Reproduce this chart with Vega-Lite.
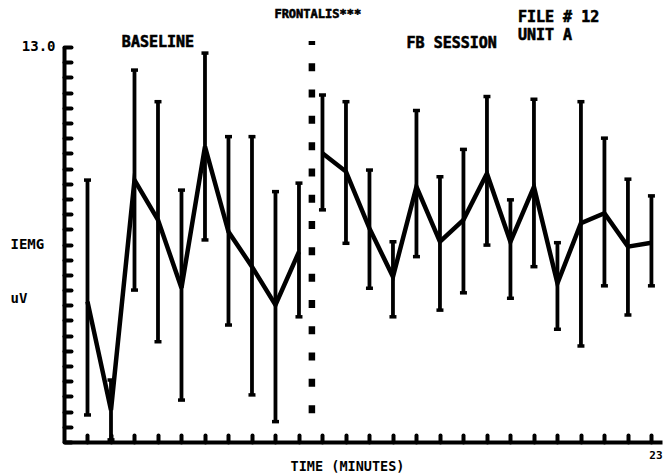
{
  "$schema": "https://vega.github.io/schema/vega-lite/v6.json",
  "width": 598,
  "height": 395,
  "autosize": "none",
  "padding": {"left": 64, "top": 47, "right": 2, "bottom": 34},
  "background": "white",
  "config": {
    "view": {"stroke": null},
    "font": "DejaVu Sans Mono",
    "axis": {"labelFont": "DejaVu Sans Mono", "titleFont": "DejaVu Sans Mono", "labelFontWeight": "bold", "titleFontWeight": "bold", "labelColor": "black", "titleColor": "black", "domainColor": "black", "tickColor": "black", "grid": false, "ticks": true}
  },
  "resolve": {"axis": {"x": "independent", "y": "independent"}},
  "datasets": {
    "emg": [
      {"t": 1, "mean": 4.62, "lo": 0.89, "hi": 8.62, "phase": "BASELINE"},
      {"t": 2, "mean": 1.05, "lo": 0.07, "hi": 2.04, "phase": "BASELINE"},
      {"t": 3, "mean": 8.62, "lo": 5.0, "hi": 12.24, "phase": "BASELINE"},
      {"t": 4, "mean": 7.31, "lo": 3.3, "hi": 11.2, "phase": "BASELINE"},
      {"t": 5, "mean": 5.07, "lo": 1.38, "hi": 8.29, "phase": "BASELINE"},
      {"t": 6, "mean": 9.72, "lo": 6.65, "hi": 12.8, "phase": "BASELINE"},
      {"t": 7, "mean": 6.92, "lo": 3.85, "hi": 10.05, "phase": "BASELINE"},
      {"t": 8, "mean": 5.77, "lo": 1.55, "hi": 10.05, "phase": "BASELINE"},
      {"t": 9, "mean": 4.51, "lo": 0.67, "hi": 8.24, "phase": "BASELINE"},
      {"t": 10, "mean": 6.26, "lo": 4.12, "hi": 8.52, "phase": "BASELINE"},
      {"t": 11, "mean": 9.5, "lo": 7.64, "hi": 11.42, "phase": "FB SESSION"},
      {"t": 12, "mean": 8.9, "lo": 6.54, "hi": 11.2, "phase": "FB SESSION"},
      {"t": 13, "mean": 7.03, "lo": 5.06, "hi": 8.95, "phase": "FB SESSION"},
      {"t": 14, "mean": 5.44, "lo": 4.12, "hi": 6.59, "phase": "FB SESSION"},
      {"t": 15, "mean": 8.4, "lo": 6.1, "hi": 10.91, "phase": "FB SESSION"},
      {"t": 16, "mean": 6.59, "lo": 4.34, "hi": 8.73, "phase": "FB SESSION"},
      {"t": 17, "mean": 7.31, "lo": 4.91, "hi": 9.63, "phase": "FB SESSION"},
      {"t": 18, "mean": 8.84, "lo": 6.48, "hi": 11.37, "phase": "FB SESSION"},
      {"t": 19, "mean": 6.59, "lo": 4.73, "hi": 7.97, "phase": "FB SESSION"},
      {"t": 20, "mean": 8.4, "lo": 5.77, "hi": 11.28, "phase": "FB SESSION"},
      {"t": 21, "mean": 5.22, "lo": 3.71, "hi": 6.56, "phase": "FB SESSION"},
      {"t": 22, "mean": 7.2, "lo": 3.16, "hi": 11.2, "phase": "FB SESSION"},
      {"t": 23, "mean": 7.53, "lo": 5.14, "hi": 10.0, "phase": "FB SESSION"},
      {"t": 24, "mean": 6.43, "lo": 4.18, "hi": 8.65, "phase": "FB SESSION"},
      {"t": 25, "mean": 6.56, "lo": 5.14, "hi": 8.1, "phase": "FB SESSION"}
    ],
    "notes": [
      {"label": "BASELINE", "t": 4.0, "v": 13.17, "size": "big"},
      {"label": "FB SESSION", "t": 16.5, "v": 13.13, "size": "big"},
      {"label": "FRONTALIS***", "t": 10.8, "v": 14.09, "size": "small"}
    ],
    "file": [
      {"label": "FILE # 12", "t": 19.32, "v": 13.98},
      {"label": "UNIT A", "t": 19.32, "v": 13.4}
    ]
  },
  "layer": [
    {
      "data": {"name": "emg"},
      "mark": {"type": "line", "color": "black", "strokeWidth": 4.5, "strokeJoin": "miter"},
      "encoding": {
        "x": {
          "field": "t", "type": "quantitative",
          "scale": {"domain": [0, 25.45], "nice": false, "zero": false},
          "axis": {
            "values": [1,2,3,4,5,6,7,8,9,10,11,12,13,14,15,16,17,18,19,20,21,22,23,24,25],
            "labelExpr": "datum.value == 25 ? '23' : ''",
            "domainWidth": 4, "tickSize": -7, "tickWidth": 4, "tickCap": "round",
            "labelFontSize": 11, "labelPadding": 14, "labelAlign": "center", "labelOffset": 4, "labelBaseline": "top",
            "labelOverlap": false, "labelBound": false, "labelFlush": false,
            "title": "TIME (MINUTES)", "titleFontSize": 13.5,
            "titleX": 283, "titleY": 28, "titleBaseline": "alphabetic", "titleAnchor": null
          }
        },
        "y": {
          "field": "mean", "type": "quantitative",
          "scale": {"domain": [0, 13], "nice": false},
          "axis": {
            "values": [0,0.5,1,1.5,2,2.5,3,3.5,4,4.5,5,5.5,6,6.5,7,7.5,8,8.5,9,9.5,10,10.5,11,11.5,12,12.5,13],
            "labelExpr": "datum.value == 13 ? '13.0' : ''",
            "labelOverlap": false, "labelBound": false, "labelFlush": false,
            "domainWidth": 4, "tickSize": -7, "tickWidth": 4, "tickCap": "round",
            "labelFontSize": 14, "labelPadding": 16, "labelBaseline": "middle", "labelOffset": -1,
            "title": ["IEMG", "uV"], "titleFontSize": 14, "titleLineHeight": 54,
            "titleAngle": 0, "titleAlign": "left", "titleBaseline": "alphabetic",
            "titleX": -54, "titleY": 201
          }
        },
        "detail": {"field": "phase"}
      }
    },
    {
      "data": {"values": [{"t": 10.55, "from": 0.95, "to": 13.2}]},
      "mark": {"type": "rule", "color": "black", "strokeWidth": 6.5, "strokeDash": [8, 18.3]},
      "encoding": {
        "x": {"field": "t", "type": "quantitative", "axis": null},
        "y": {"field": "from", "type": "quantitative", "axis": null},
        "y2": {"field": "to"}
      }
    },
    {
      "data": {"name": "emg"},
      "mark": {"type": "rule", "color": "black", "strokeWidth": 3.8},
      "encoding": {
        "x": {"field": "t", "type": "quantitative", "axis": null},
        "y": {"field": "lo", "type": "quantitative", "axis": null},
        "y2": {"field": "hi"}
      }
    },
    {
      "data": {"name": "emg"},
      "mark": {"type": "tick", "color": "black", "orient": "horizontal", "size": 7, "thickness": 3.5, "opacity": 1},
      "encoding": {
        "x": {"field": "t", "type": "quantitative", "axis": null},
        "y": {"field": "hi", "type": "quantitative", "axis": null}
      }
    },
    {
      "data": {"name": "emg"},
      "mark": {"type": "tick", "color": "black", "orient": "horizontal", "size": 7, "thickness": 3.5, "opacity": 1},
      "encoding": {
        "x": {"field": "t", "type": "quantitative", "axis": null},
        "y": {"field": "lo", "type": "quantitative", "axis": null}
      }
    },
    {
      "data": {"name": "notes"},
      "mark": {"type": "text", "font": "DejaVu Sans Mono", "fontWeight": "bold", "fontSize": 14, "color": "black", "stroke": "black", "strokeWidth": 0.6, "align": "center", "baseline": "middle"},
      "encoding": {
        "x": {"field": "t", "type": "quantitative", "axis": null},
        "y": {"field": "v", "type": "quantitative", "axis": null},
        "text": {"field": "label"},
        "size": {"field": "size", "type": "nominal", "scale": {"domain": ["big", "small"], "range": [15, 12]}, "legend": null}
      }
    },
    {
      "data": {"name": "file"},
      "mark": {"type": "text", "font": "DejaVu Sans Mono", "fontWeight": "bold", "fontSize": 15, "color": "black", "stroke": "black", "strokeWidth": 0.6, "align": "left", "baseline": "middle"},
      "encoding": {
        "x": {"field": "t", "type": "quantitative", "axis": null},
        "y": {"field": "v", "type": "quantitative", "axis": null},
        "text": {"field": "label"}
      }
    }
  ]
}
